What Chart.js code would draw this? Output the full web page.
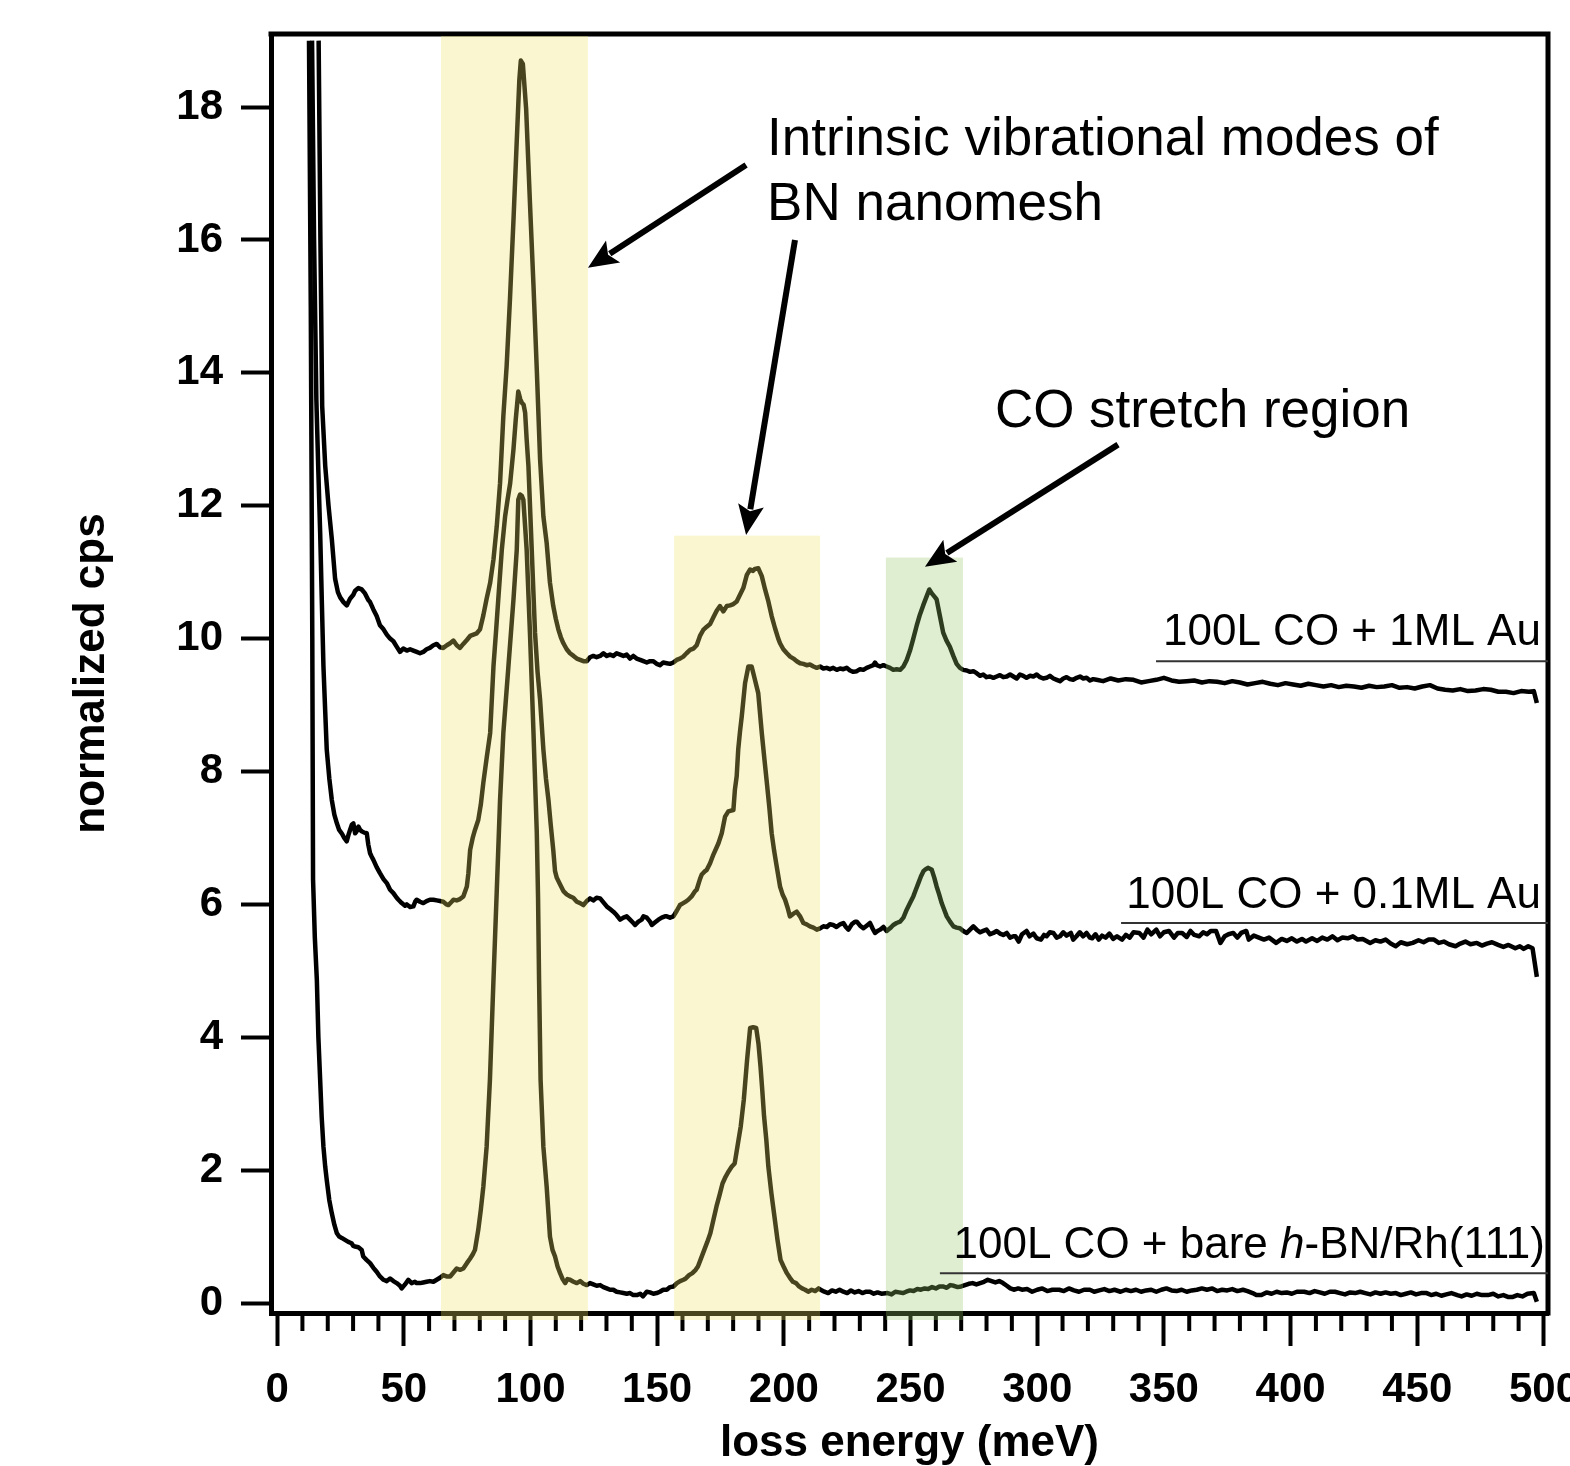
<!DOCTYPE html>
<html>
<head>
<meta charset="utf-8">
<script src="https://cdn.jsdelivr.net/npm/chart.js@4.4.1/dist/chart.umd.min.js"></script>
<style>
  html, body { margin: 0; padding: 0; background: #fff; }
  canvas { display: block; }
</style>
</head>
<body>
<canvas id="hreels" width="1570" height="1466"></canvas>
<script>
// spectra, [loss energy (meV), normalized cps]
const au1ML = [
  [16.4,19.0],[17.1,16.0],[17.8,13.5],[19.0,12.6],[20.3,12.0],[21.6,11.5],[22.9,10.9],[24.0,10.7],[24.9,10.62],[26.2,10.55],
  [27.5,10.5],[28.8,10.6],[30.1,10.66],[30.8,10.72],[32.1,10.76],[33.4,10.74],[34.7,10.68],[36.0,10.58],[36.7,10.55],[38.0,10.44],
  [39.3,10.34],[40.6,10.2],[42.0,10.14],[43.3,10.06],[44.6,10.0],[45.9,9.96],[47.2,9.88],[48.5,9.8],[49.8,9.85],[51.2,9.82],
  [52.5,9.84],[53.8,9.82],[55.1,9.8],[56.4,9.78],[57.7,9.8],[59.0,9.84],[60.3,9.86],[61.7,9.9],[63.0,9.92],[64.3,9.87],
  [65.6,9.86],[67.0,9.9],[68.3,9.93],[69.6,9.97],[70.9,9.9],[72.2,9.86],[73.5,9.92],[74.9,9.98],[76.2,10.04],[77.5,10.06],
  [78.8,10.08],[80.1,10.14],[81.4,10.35],[82.7,10.6],[84.1,10.84],[85.4,11.19],[86.7,11.69],[88.0,12.34],[89.3,13.35],[90.6,14.1],
  [91.9,15.1],[93.3,16.3],[94.6,17.5],[95.6,18.4],[96.2,18.7],[97.0,18.65],[98.3,17.97],[99.8,16.56],[101.2,15.31],[102.5,14.05],
  [103.8,12.7],[105.1,11.84],[106.4,11.44],[107.7,10.84],[109.0,10.49],[110.0,10.3],[111.0,10.14],[112.0,10.02],[113.0,9.93],[114.3,9.84],
  [115.6,9.78],[117.0,9.74],[118.3,9.7],[119.6,9.68],[120.9,9.66],[122.2,9.66],[123.5,9.72],[124.8,9.74],[126.1,9.72],[127.5,9.74],
  [128.8,9.78],[130.1,9.74],[131.4,9.76],[132.7,9.74],[134.0,9.78],[135.4,9.76],[136.7,9.74],[138.0,9.76],[139.3,9.7],[140.6,9.74],
  [141.9,9.7],[143.3,9.68],[144.6,9.66],[145.9,9.64],[147.2,9.66],[148.5,9.66],[149.8,9.62],[151.1,9.6],[152.4,9.64],[153.8,9.63],
  [155.1,9.62],[156.4,9.64],[157.7,9.68],[159.0,9.7],[160.3,9.73],[161.6,9.78],[163.0,9.83],[164.3,9.85],[165.6,9.9],[166.9,10.04],
  [168.2,10.13],[169.6,10.18],[170.9,10.22],[172.2,10.32],[173.5,10.42],[174.8,10.49],[176.1,10.41],[177.5,10.49],[178.8,10.5],[180.1,10.52],
  [181.4,10.56],[182.7,10.66],[184.0,10.76],[185.4,10.96],[186.7,11.04],[187.9,11.02],[188.6,11.05],[189.9,11.06],[190.6,11.0],[191.3,10.94],
  [192.6,10.74],[193.9,10.56],[195.2,10.34],[196.5,10.16],[197.8,10.0],[198.5,9.93],[199.8,9.84],[201.2,9.78],[202.5,9.73],[203.8,9.7],
  [205.1,9.66],[206.4,9.63],[207.7,9.62],[209.0,9.6],[210.3,9.61],[211.7,9.58],[213.0,9.56],[214.3,9.58],[215.6,9.55],[216.9,9.56],
  [218.2,9.54],[219.5,9.56],[220.9,9.53],[222.2,9.55],[223.5,9.54],[224.8,9.56],[226.1,9.52],[227.4,9.5],[228.8,9.51],[230.1,9.54],
  [231.4,9.53],[232.7,9.56],[234.0,9.58],[235.3,9.6],[236.0,9.64],[236.7,9.6],[238.0,9.58],[239.3,9.6],[240.6,9.58],[241.9,9.56],
  [243.2,9.53],[244.5,9.54],[245.9,9.53],[247.2,9.58],[248.5,9.68],[249.8,9.82],[251.1,10.0],[252.4,10.19],[253.7,10.36],[255.0,10.5],
  [256.4,10.64],[257.4,10.74],[258.4,10.68],[259.7,10.62],[260.3,10.59],[261.6,10.34],[262.9,10.09],[264.2,9.97],[265.5,9.88],[266.9,9.74],
  [268.2,9.62],[269.5,9.56],[270.8,9.53],[272.2,9.52],[273.5,9.5],[274.8,9.51],[276.1,9.48],[277.4,9.44],[278.7,9.46],[280.0,9.42],
  [281.4,9.43],[282.7,9.41],[284.0,9.43],[285.3,9.45],[286.6,9.42],[288.0,9.43],[289.3,9.46],[290.6,9.43],[291.9,9.4],[293.2,9.46],
  [294.5,9.44],[295.8,9.41],[297.2,9.44],[298.5,9.43],[299.8,9.46],[301.1,9.42],[302.4,9.4],[303.7,9.41],[305.0,9.44],[306.4,9.4],
  [307.7,9.38],[309.0,9.36],[310.3,9.4],[311.6,9.42],[312.9,9.39],[314.2,9.38],[315.6,9.41],[316.9,9.43],[318.2,9.4],[319.5,9.41],
  [320.8,9.37],[322.1,9.39],[323.4,9.38],[326,9.36],[329,9.4],[332,9.37],[335,9.39],[338,9.38],[341,9.34],[344,9.36],
  [347,9.38],[350,9.41],[353,9.37],[356,9.35],[359,9.36],[362,9.37],[365,9.34],[368,9.36],[371,9.35],[374,9.33],
  [377,9.36],[380,9.34],[383,9.31],[386,9.33],[389,9.35],[392,9.32],[395,9.3],[398,9.33],[401,9.31],[404,9.29],
  [407,9.32],[410,9.3],[413,9.28],[416,9.3],[419,9.27],[422,9.29],[425,9.28],[428,9.26],[431,9.29],[434,9.27],
  [437,9.28],[440,9.3],[443,9.26],[446,9.27],[449,9.25],[452,9.28],[455,9.3],[458,9.25],[461,9.23],[464,9.22],
  [467,9.24],[470,9.21],[473,9.22],[476,9.24],[479,9.23],[482,9.2],[485,9.2],[488,9.18],[491,9.21],[494,9.2],
  [496,9.21],[497.2,9.03]
];

const au01ML = [
  [13.8,19.0],[14.6,16.0],[15.5,13.6],[16.3,12.5],[17.0,11.6],[17.7,10.5],[18.3,9.58],[19.0,8.9],[19.6,8.33],[20.6,7.9],
  [21.6,7.57],[22.6,7.35],[23.6,7.22],[24.5,7.12],[25.5,7.07],[26.5,7.0],[27.5,6.95],[28.2,7.05],[28.8,7.12],[29.5,7.2],
  [30.1,7.22],[30.8,7.07],[31.4,7.1],[32.1,7.17],[32.8,7.12],[33.4,7.1],[34.4,7.08],[35.4,7.07],[36.0,6.9],[36.7,6.77],
  [37.3,6.72],[38.0,6.67],[39.3,6.56],[40.6,6.47],[42.0,6.38],[43.3,6.32],[44.6,6.22],[45.9,6.17],[47.2,6.1],[47.9,6.07],
  [49.2,6.02],[50.5,5.98],[51.2,6.0],[52.5,5.96],[53.8,5.97],[54.5,6.04],[55.1,6.07],[56.4,6.04],[57.7,6.02],[59.0,6.05],
  [60.3,6.07],[61.7,6.07],[63.0,6.06],[64.3,6.05],[65.6,6.04],[66.9,6.0],[67.6,5.99],[68.9,6.04],[69.6,6.07],[70.9,6.06],
  [72.2,6.08],[73.5,6.12],[74.9,6.27],[75.5,6.47],[76.2,6.82],[77.2,7.0],[78.1,7.12],[79.4,7.27],[80.4,7.5],[81.4,7.83],
  [82.7,8.2],[84.1,8.58],[85.4,9.58],[86.4,10.1],[87.3,10.59],[88.7,11.34],[90.0,11.84],[91.0,12.1],[92.0,12.34],[93.3,12.85],
  [94.2,13.3],[95.2,13.72],[96.0,13.6],[96.6,13.55],[97.3,13.52],[97.9,13.4],[98.5,13.0],[99.2,12.6],[100.5,11.34],[101.8,10.09],
  [102.8,9.5],[103.8,9.08],[105.1,8.33],[106.1,7.9],[107.1,7.57],[108.0,7.2],[109.0,6.82],[109.7,6.5],[110.4,6.4],[111.7,6.3],
  [113.0,6.2],[114.3,6.15],[115.6,6.12],[116.9,6.1],[118.3,6.04],[119.6,6.02],[120.9,5.99],[122.2,6.05],[123.5,6.09],[124.8,6.06],
  [126.1,6.1],[127.5,6.09],[128.8,6.03],[130.1,5.97],[131.4,5.93],[132.7,5.89],[134.0,5.84],[135.4,5.77],[136.7,5.8],[138.0,5.82],
  [139.3,5.77],[140.6,5.72],[141.3,5.69],[142.6,5.74],[143.9,5.77],[144.6,5.82],[145.9,5.8],[147.2,5.74],[147.9,5.69],[149.2,5.73],
  [150.5,5.77],[151.8,5.8],[153.1,5.82],[153.8,5.82],[155.1,5.8],[156.4,5.82],[157.7,5.9],[159.0,5.99],[160.3,6.02],[161.6,6.05],
  [162.3,6.07],[163.6,6.12],[165.0,6.2],[165.6,6.22],[166.9,6.38],[167.6,6.45],[168.9,6.5],[169.6,6.52],[170.9,6.62],[172.2,6.75],
  [173.5,6.86],[174.2,6.92],[175.5,7.07],[176.8,7.32],[178.1,7.4],[180.1,7.42],[180.7,7.73],[181.4,7.93],[182.0,8.33],[182.7,8.6],
  [183.4,8.83],[184.7,9.33],[186.0,9.58],[187.3,9.58],[188.6,9.38],[189.9,9.18],[191.3,8.58],[192.3,8.2],[193.3,7.83],[194.3,7.45],
  [195.2,7.07],[196.2,6.8],[197.2,6.57],[198.5,6.27],[199.5,6.15],[200.5,6.07],[201.5,5.95],[202.4,5.82],[203.8,5.86],[205.1,5.89],
  [206.4,5.82],[207.7,5.72],[209.0,5.7],[210.3,5.67],[211.7,5.65],[213.0,5.62],[214.3,5.64],[215.6,5.67],[217.0,5.66],[218.2,5.7],
  [219.5,5.69],[220.8,5.66],[222.2,5.7],[223.5,5.72],[224.5,5.66],[225.5,5.62],[226.8,5.7],[228.1,5.74],[228.8,5.74],[230.1,5.68],
  [231.4,5.64],[232.7,5.68],[234.0,5.72],[235.0,5.64],[236.0,5.57],[237.0,5.6],[238.0,5.62],[239.3,5.66],[240.6,5.6],[241.9,5.64],
  [243.2,5.69],[244.5,5.72],[245.9,5.74],[247.2,5.8],[248.5,5.92],[249.8,6.02],[251.1,6.12],[252.1,6.22],[253.1,6.32],[254.1,6.42],
  [255.1,6.5],[256.0,6.53],[257.0,6.55],[258.4,6.52],[259.4,6.4],[260.3,6.27],[261.3,6.15],[262.3,6.02],[263.3,5.92],[264.3,5.82],
  [265.6,5.74],[266.9,5.67],[268.2,5.65],[269.5,5.64],[270.8,5.6],[272.2,5.57],[273.5,5.62],[274.8,5.67],[276.1,5.62],[277.4,5.58],
  [278.7,5.6],[280.0,5.62],[281.4,5.55],[282.7,5.57],[284.0,5.6],[285.3,5.56],[286.6,5.54],[288.0,5.57],[289.3,5.5],[290.6,5.52],
  [291.4,5.52],[292.7,5.44],[294.0,5.55],[295.8,5.6],[297.0,5.52],[298.5,5.56],[299.8,5.49],[301.5,5.47],[302.7,5.54],[303.7,5.52],
  [305.0,5.58],[306.4,5.57],[307.7,5.5],[309.0,5.52],[310.3,5.58],[311.6,5.53],[313.3,5.57],[314.2,5.47],[315.5,5.52],[316.8,5.58],
  [318.1,5.52],[319.5,5.57],[320.8,5.5],[321.7,5.49],[323.0,5.55],[324.3,5.47],[325.6,5.53],[327,5.5],[328.5,5.56],[330,5.48],
  [331.5,5.52],[333.5,5.47],[335,5.54],[336.5,5.5],[338,5.58],[340.3,5.57],[342,5.5],[343.5,5.62],[345,5.55],[347,5.62],
  [348.5,5.52],[350,5.58],[352,5.6],[354,5.5],[355.5,5.57],[357.2,5.57],[359,5.51],[360.5,5.6],[362,5.54],[363.9,5.52],
  [365.5,5.58],[367,5.55],[368.5,5.6],[370.6,5.6],[372.3,5.42],[374,5.52],[375.5,5.55],[377.4,5.57],[379,5.5],[380.5,5.57],
  [382.5,5.6],[383.5,5.47],[385.5,5.53],[387.5,5.5],[389.5,5.47],[391.5,5.5],[394.3,5.42],[396.5,5.48],[398.5,5.45],[400.5,5.49],
  [402.5,5.44],[404.5,5.48],[406.1,5.44],[408.5,5.49],[410.5,5.45],[412.5,5.5],[414.5,5.47],[416.5,5.52],[418.5,5.46],[420.5,5.5],
  [422.5,5.49],[424.6,5.52],[426.5,5.47],[428.5,5.48],[431.4,5.42],[433.5,5.46],[435.5,5.44],[437.5,5.47],[439.5,5.41],[441.5,5.37],
  [443.5,5.43],[446,5.4],[448.2,5.42],[450.5,5.46],[452.5,5.43],[454.5,5.47],[456.6,5.47],[458.5,5.42],[460.5,5.44],[462.5,5.4],
  [465.1,5.37],[467,5.41],[469,5.44],[471,5.4],[473.5,5.42],[475.5,5.38],[477.5,5.41],[479.5,5.43],[481.9,5.39],[484,5.36],
  [486,5.39],[488.7,5.34],[490.5,5.37],[492,5.33],[493.8,5.37],[495.5,5.34],[497.2,4.91]
];

const bareBN = [
  [12.6,19.0],[13.3,15.0],[13.9,10.0],[14.2,6.37],[14.9,5.5],[15.7,4.86],[16.3,4.0],[17.0,3.36],[17.6,2.8],[18.3,2.35],
  [19.0,2.05],[19.6,1.85],[20.6,1.55],[21.6,1.35],[22.6,1.18],[23.6,1.05],[24.5,1.0],[25.5,0.98],[26.8,0.95],[28.1,0.92],
  [29.4,0.9],[30.1,0.86],[30.8,0.85],[32.1,0.84],[33.4,0.8],[34.0,0.7],[35.3,0.65],[36.7,0.6],[38.0,0.53],[39.3,0.47],
  [40.6,0.4],[42.0,0.35],[43.3,0.33],[44.6,0.37],[45.9,0.33],[47.2,0.3],[48.5,0.26],[49.2,0.22],[50.5,0.28],[51.8,0.35],
  [53.1,0.3],[54.4,0.32],[55.1,0.3],[56.4,0.3],[57.7,0.31],[59.0,0.32],[60.3,0.33],[61.7,0.32],[63.0,0.35],[64.3,0.38],
  [65.6,0.42],[66.9,0.4],[68.3,0.4],[69.6,0.46],[70.9,0.52],[72.2,0.5],[73.5,0.52],[74.9,0.6],[76.2,0.67],[77.2,0.73],
  [78.1,0.8],[79.4,1.1],[80.4,1.4],[81.4,1.75],[82.7,2.35],[84.0,3.36],[85.4,4.86],[86.7,6.2],[88.0,7.57],[89.3,8.58],
  [91.3,9.58],[93.3,10.59],[94.6,11.34],[95.2,12.09],[95.9,12.17],[96.6,12.15],[97.2,12.09],[98.5,11.34],[99.8,10.09],[101.2,8.58],
  [102.5,7.08],[103.0,6.1],[103.4,4.86],[104.0,3.36],[105.1,2.35],[106.4,1.75],[107.7,1.0],[108.7,0.8],[109.7,0.7],[110.7,0.55],
  [111.7,0.45],[112.7,0.36],[113.7,0.3],[114.6,0.36],[115.6,0.35],[117.0,0.32],[118.3,0.3],[119.6,0.33],[120.9,0.29],[122.2,0.27],
  [123.5,0.3],[124.8,0.28],[126.1,0.26],[127.5,0.27],[128.8,0.24],[130.1,0.22],[131.4,0.2],[132.7,0.2],[134.0,0.17],[135.4,0.16],
  [136.7,0.15],[138.0,0.14],[139.3,0.15],[140.6,0.12],[142.0,0.12],[143.3,0.14],[144.4,0.1],[145.9,0.17],[147.2,0.16],[148.5,0.14],
  [149.8,0.15],[151.1,0.17],[152.4,0.2],[153.8,0.2],[155.1,0.24],[156.5,0.25],[157.8,0.3],[159.1,0.33],[160.4,0.35],[161.3,0.37],
  [162.6,0.42],[163.9,0.45],[165.2,0.5],[166.1,0.55],[167.4,0.68],[168.6,0.8],[169.8,0.92],[171.0,1.05],[172.2,1.25],[173.4,1.45],
  [174.6,1.62],[175.8,1.8],[177.0,1.9],[178.2,1.98],[179.4,2.05],[180.6,2.1],[181.8,2.38],[183.0,2.66],[184.2,3.06],[185.5,3.66],
  [186.7,4.14],[187.9,4.15],[189.1,4.14],[190.0,3.9],[190.8,3.56],[191.5,3.2],[192.2,2.81],[193.1,2.45],[193.9,2.05],[195.1,1.65],
  [196.3,1.3],[197.5,0.95],[198.7,0.65],[199.9,0.55],[201.2,0.45],[202.4,0.38],[203.6,0.32],[204.8,0.3],[206.0,0.25],[207.2,0.22],
  [208.4,0.2],[209.6,0.17],[211.0,0.2],[212.4,0.18],[213.7,0.22],[214.5,0.2],[216,0.17],[217.5,0.15],[219,0.19],[220.5,0.17],
  [222,0.2],[223.5,0.17],[225,0.15],[226.5,0.19],[228,0.16],[229.5,0.18],[231,0.15],[232.5,0.17],[234,0.17],[235.5,0.14],
  [237,0.16],[238.5,0.14],[241,0.15],[242.5,0.13],[244,0.17],[245.5,0.16],[247,0.15],[248.3,0.17],[249.8,0.19],[251.2,0.18],
  [252.7,0.21],[254.1,0.2],[255.6,0.22],[257,0.21],[258.5,0.24],[260,0.22],[261.4,0.25],[262.8,0.25],[264.3,0.23],[265.7,0.27],
  [267.1,0.26],[268.6,0.24],[270,0.25],[271.5,0.27],[273,0.29],[274.5,0.3],[276,0.28],[277.5,0.3],[279,0.32],[280.5,0.35],
  [282,0.33],[283.5,0.31],[285,0.33],[286.5,0.3],[288,0.26],[289.4,0.22],[291,0.2],[292.5,0.22],[294,0.2],[296,0.21],
  [298,0.17],[300,0.2],[302,0.22],[304,0.18],[306,0.2],[308.7,0.2],[310.5,0.18],[312.5,0.22],[314.5,0.19],[316.5,0.17],
  [318.5,0.2],[320.8,0.2],[322.5,0.17],[324.5,0.19],[326.5,0.21],[328.5,0.18],[330.5,0.2],[332.9,0.17],[335,0.2],[337,0.18],
  [339,0.2],[341,0.17],[343,0.19],[345,0.2],[347,0.17],[349,0.2],[351,0.22],[353,0.19],[355,0.18],[357,0.2],
  [359,0.17],[361,0.19],[363,0.2],[365,0.22],[367,0.2],[369.1,0.22],[371,0.18],[373,0.2],[375,0.19],[377,0.21],
  [379,0.18],[381.2,0.2],[383,0.18],[385,0.15],[386.5,0.12],[388.5,0.12],[390.5,0.16],[392.5,0.14],[394.5,0.17],[396.5,0.15],
  [398.5,0.16],[400.5,0.14],[402.5,0.17],[405.4,0.17],[407.5,0.15],[409.5,0.18],[411.5,0.16],[413.5,0.14],[415.5,0.17],[417.5,0.17],
  [419.5,0.15],[421.5,0.13],[423.5,0.16],[425.5,0.15],[427.5,0.17],[429.5,0.15],[431.5,0.13],[433.5,0.16],[435.5,0.14],[437.5,0.16],
  [439.5,0.14],[441.6,0.15],[443.5,0.12],[445.5,0.14],[447.5,0.16],[449.5,0.13],[451.5,0.15],[453.7,0.15],[455.5,0.12],[457.5,0.14],
  [459.5,0.11],[461.5,0.13],[463.5,0.15],[465.8,0.12],[467.5,0.1],[469.5,0.13],[471.5,0.11],[473.5,0.14],[475.5,0.12],[477.9,0.12],
  [480,0.14],[482,0.1],[484,0.12],[486,0.09],[487.5,0.09],[489.5,0.12],[491.5,0.1],[493.5,0.14],[496,0.15],[497.2,0.02]
];

// *...* marks italic text
const seriesLabels = ['100L CO + 1ML Au', '100L CO + 0.1ML Au', '100L CO + bare *h*-BN/Rh(111)'];
const xTickValues = [0, 50, 100, 150, 200, 250, 300, 350, 400, 450, 500];
const yTickValues = [0, 2, 4, 6, 8, 10, 12, 14, 16, 18];

// shaded regions: [from meV, to meV, top cps]
const bnRegions = [[64.7, 122.7, 19.07], [156.7, 214.3, 11.55]];
const coRegions = [[240.3, 270.7, 11.22]];

const FONT = '"Liberation Sans", Arial, Helvetica, sans-serif';
Chart.defaults.font.family = FONT;
Chart.defaults.color = '#000';

function toXY(pairs) {
  return pairs.map(p => ({ x: p[0], y: p[1] }));
}

function drawArrow(ctx, x1, y1, x2, y2) {
  const ang = Math.atan2(y2 - y1, x2 - x1);
  const c = Math.cos(ang), s = Math.sin(ang);
  const len = 30, half = 13;
  ctx.lineWidth = 6;
  ctx.beginPath();
  ctx.moveTo(x1, y1);
  ctx.lineTo(x2 - (len - 4) * c, y2 - (len - 4) * s);
  ctx.stroke();
  const bx = x2 - len * c, by = y2 - len * s;
  ctx.beginPath();
  ctx.moveTo(x2, y2);
  ctx.lineTo(bx - half * s, by + half * c);
  ctx.lineTo(x2 - (len - 6) * c, y2 - (len - 6) * s);
  ctx.lineTo(bx + half * s, by - half * c);
  ctx.closePath();
  ctx.fill();
}

// right aligned label with optional *italic* parts
function drawLabel(ctx, text, rightX, baseY, size) {
  const parts = text.split('*').map((t, i) => ({ t, it: i % 2 === 1 })).filter(p => p.t);
  let w = 0;
  parts.forEach(p => {
    ctx.font = (p.it ? 'italic ' : '') + size + 'px ' + FONT;
    p.w = ctx.measureText(p.t).width;
    w += p.w;
  });
  let x = rightX - w;
  ctx.textAlign = 'left';
  ctx.textBaseline = 'alphabetic';
  parts.forEach(p => {
    ctx.font = (p.it ? 'italic ' : '') + size + 'px ' + FONT;
    ctx.fillText(p.t, x, baseY);
    x += p.w;
  });
}

const decor = {
  id: 'decor',
  afterDraw(chart) {
    const { ctx, chartArea: a, scales: { x, y } } = chart;
    ctx.save();

    // box: top and right sides
    ctx.strokeStyle = '#000';
    ctx.lineWidth = 5;
    ctx.beginPath();
    ctx.moveTo(a.left - 2.5, a.top);
    ctx.lineTo(a.right, a.top);
    ctx.lineTo(a.right, a.bottom + 2.5);
    ctx.stroke();

    // minor ticks every 10 meV
    ctx.lineWidth = 4;
    for (let v = 10; v < 500; v += 10) {
      if (v % 50 === 0) continue;
      const px = x.getPixelForValue(v);
      ctx.beginPath();
      ctx.moveTo(px, a.bottom);
      ctx.lineTo(px, a.bottom + 18);
      ctx.stroke();
    }

    // translucent bands on top of everything
    const bandBottom = a.bottom + 7;
    const fillBand = (r, color) => {
      const l = x.getPixelForValue(r[0]), rr = x.getPixelForValue(r[1]);
      const t = y.getPixelForValue(r[2]);
      ctx.fillStyle = color;
      ctx.fillRect(l, t, rr - l, bandBottom - t);
    };
    bnRegions.forEach(r => fillBand(r, 'rgba(240, 226, 100, 0.3)'));
    coRegions.forEach(r => fillBand(r, 'rgba(150, 200, 100, 0.3)'));

    // arrows
    ctx.fillStyle = '#000';
    ctx.strokeStyle = '#000';
    const P = (e, c) => [x.getPixelForValue(e), y.getPixelForValue(c)];
    [[185.1, 17.13, 122.7, 15.58], [204.4, 16.0, 185.1, 11.56], [331.9, 12.92, 255.7, 11.08]].forEach(ar => {
      const [x1, y1] = P(ar[0], ar[1]);
      const [x2, y2] = P(ar[2], ar[3]);
      drawArrow(ctx, x1, y1, x2, y2);
    });

    // annotations
    ctx.textAlign = 'left';
    ctx.textBaseline = 'alphabetic';
    ctx.font = '53px ' + FONT;
    let p = P(193.4, 17.28);
    ctx.fillText('Intrinsic vibrational modes of', p[0], p[1]);
    p = P(193.4, 16.3);
    ctx.fillText('BN nanomesh', p[0], p[1]);
    p = P(283.3, 13.19);
    ctx.fillText('CO stretch region', p[0], p[1]);

    // spectrum labels with underline
    const anchors = [[498.8, 9.91, 9.66, 346.9], [498.8, 5.95, 5.72, 333.1], [500.4, 0.68, 0.45, 261.6]];
    anchors.forEach((an, i) => {
      const [rx, by] = P(an[0], an[1]);
      drawLabel(ctx, seriesLabels[i], rx, by, 44);
      const uy = y.getPixelForValue(an[2]);
      ctx.lineWidth = 2;
      ctx.strokeStyle = '#333';
      ctx.beginPath();
      ctx.moveTo(x.getPixelForValue(an[3]), uy);
      ctx.lineTo(a.right, uy);
      ctx.stroke();
    });

    ctx.restore();
  }
};

const lineStyle = { showLine: true, borderColor: '#000', borderWidth: 4.5, pointRadius: 0, tension: 0, borderJoinStyle: 'round' };

new Chart(document.getElementById('hreels').getContext('2d'), {
  type: 'scatter',
  data: {
    datasets: [
      Object.assign({ label: seriesLabels[0], data: toXY(au1ML) }, lineStyle),
      Object.assign({ label: seriesLabels[1], data: toXY(au01ML) }, lineStyle),
      Object.assign({ label: seriesLabels[2], data: toXY(bareBN) }, lineStyle)
    ]
  },
  options: {
    responsive: false,
    animation: false,
    devicePixelRatio: 1,
    layout: { padding: { top: 34, right: 22, left: 0, bottom: 0 } },
    plugins: { legend: { display: false }, tooltip: { enabled: false } },
    scales: {
      x: {
        type: 'linear',
        min: -2.4,
        max: 501.6,
        afterBuildTicks: s => { s.ticks = xTickValues.map(v => ({ value: v })); },
        afterFit: s => { s.height = 153; s.paddingLeft = 0; s.paddingRight = 0; },
        ticks: { font: { size: 42, weight: 'bold' }, padding: 19, maxRotation: 0, minRotation: 0, autoSkip: false, color: '#000' },
        grid: { drawOnChartArea: false, tickLength: 33, tickWidth: 4, tickColor: '#000', color: '#000' },
        border: { display: true, width: 5, color: '#000' },
        title: { display: true, text: 'loss energy (meV)', color: '#000', font: { size: 44, weight: 'bold', lineHeight: 1 }, padding: { top: 0, bottom: 0 } }
      },
      y: {
        type: 'linear',
        min: -0.15,
        max: 19.1,
        afterBuildTicks: s => { s.ticks = yTickValues.map(v => ({ value: v })); },
        afterFit: s => { s.width = 271; s.paddingTop = 0; s.paddingBottom = 0; },
        ticks: { font: { size: 42, weight: 'bold' }, padding: 18, color: '#000' },
        grid: { drawOnChartArea: false, tickLength: 30, tickWidth: 4, tickColor: '#000', color: '#000' },
        border: { display: true, width: 5, color: '#000' },
        title: { display: true, text: 'normalized cps', color: '#000', font: { size: 44, weight: 'bold', lineHeight: 1 }, padding: { top: 70, bottom: 0 } }
      }
    }
  },
  plugins: [decor]
});
</script>
</body>
</html>
